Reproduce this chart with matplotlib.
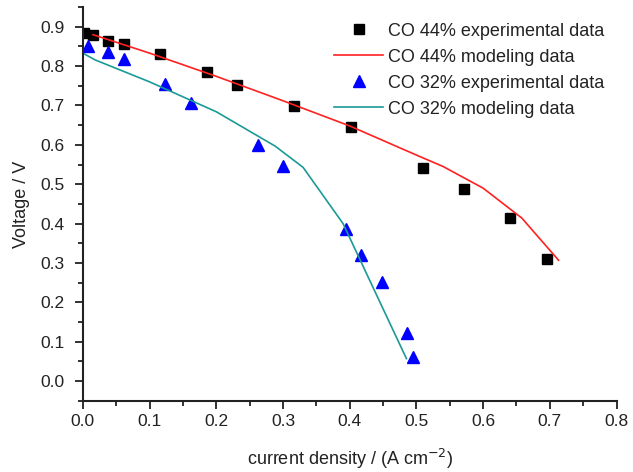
import numpy as np
import matplotlib
matplotlib.use('Agg')
from matplotlib import pyplot as plt
from matplotlib.ticker import MultipleLocator

plt.rcParams['font.family'] = ['Liberation Sans', 'DejaVu Sans']

# CO 44% experimental
x44_exp = [0.0015, 0.015, 0.038, 0.0615, 0.116, 0.1855, 0.2315, 0.316, 0.4015, 0.5095, 0.571, 0.6405, 0.6955]
y44_exp = [0.885, 0.879, 0.864, 0.856, 0.831, 0.785, 0.753, 0.698, 0.646, 0.542, 0.488, 0.413, 0.309]

# CO 44% modeling
x44_mod = [0.015, 0.1, 0.2, 0.3, 0.4, 0.5, 0.54, 0.6, 0.658, 0.713]
y44_mod = [0.880, 0.833, 0.774, 0.712, 0.648, 0.574, 0.545, 0.49, 0.414, 0.307]

# CO 32% experimental
x32_exp = [0.008, 0.038, 0.0615, 0.1225, 0.1615, 0.262, 0.3005, 0.394, 0.4165, 0.448, 0.4865, 0.4945]
y32_exp = [0.850, 0.836, 0.819, 0.754, 0.706, 0.599, 0.547, 0.385, 0.320, 0.252, 0.123, 0.062]

# CO 32% modeling
x32_mod = [0.0, 0.018, 0.1, 0.2, 0.288, 0.33, 0.39, 0.485]
y32_mod = [0.833, 0.816, 0.760, 0.684, 0.597, 0.543, 0.400, 0.057]

xticks = [0.0, 0.1, 0.2, 0.3, 0.4, 0.5, 0.6, 0.7, 0.8]
yticks = [0.0, 0.1, 0.2, 0.3, 0.4, 0.5, 0.6, 0.7, 0.8, 0.9]

fig = plt.figure(figsize=(6.33, 4.72), dpi=100)
ax = fig.add_axes([0.131, 0.151, 0.843, 0.834])

ax.plot(x44_exp, y44_exp, 's', color='black', markersize=7.5, label='CO 44% experimental data')
ax.plot(x44_mod, y44_mod, '-', color='#ff2020', lw=1.2, label='CO 44% modeling data')
ax.plot(x32_exp, y32_exp, '^', color='#0000ff', markersize=9, label='CO 32% experimental data')
ax.plot(x32_mod, y32_mod, '-', color='#1a9a96', lw=1.2, label='CO 32% modeling data')

ax.set_xlim(0, 0.8)
ax.set_ylim(-0.05, 0.95)
ax.set_xticks(xticks)
ax.set_yticks(yticks)
ax.set_xticklabels(['%.1f' % v for v in xticks])
ax.set_yticklabels(['%.1f' % v for v in yticks])
ax.xaxis.set_minor_locator(MultipleLocator(0.05))
ax.yaxis.set_minor_locator(MultipleLocator(0.05))

for s in ['top', 'right']:
    ax.spines[s].set_visible(False)
for s in ['left', 'bottom']:
    ax.spines[s].set_linewidth(1.5)
    ax.spines[s].set_color('#222222')
ax.tick_params(which='major', direction='out', length=6, width=1.3, labelsize=12.5, colors='#222222')
ax.tick_params(axis='y', which='major', pad=7)
ax.tick_params(which='minor', direction='out', length=3.5, width=1.3, colors='#222222')

ax.set_xlabel('current density / (A cm$^{-2}$)', fontsize=13, color='#222222', labelpad=13)
ax.set_ylabel('Voltage / V', fontsize=13, color='#222222', labelpad=8)

leg = ax.legend(loc='upper left', bbox_to_anchor=(0.528, 0.952), bbox_transform=fig.transFigure,
                frameon=False, fontsize=13, handlelength=2.7, handletextpad=0.3,
                labelspacing=0.5, borderpad=0, borderaxespad=0)
for t in leg.get_texts():
    t.set_color('#222222')

fig.savefig('out.png', dpi=100)
